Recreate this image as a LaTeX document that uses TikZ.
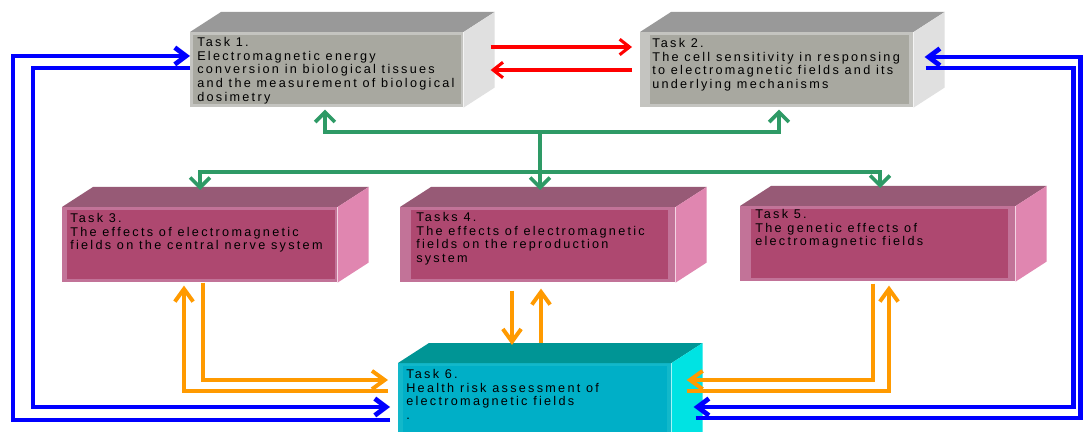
\documentclass[tikz,border=0pt]{standalone}
\usepackage{fontspec}
\setmainfont{Liberation Sans}[LetterSpace=18]
\usetikzlibrary{arrows.meta}

\definecolor{grayrim}{HTML}{C4C4C0}
\definecolor{grayfront}{HTML}{A8A8A0}
\definecolor{graytop}{HTML}{999999}
\definecolor{grayside}{HTML}{E0E0E0}
\definecolor{magrim}{HTML}{C27398}
\definecolor{magfront}{HTML}{AE4870}
\definecolor{magtop}{HTML}{975A76}
\definecolor{magside}{HTML}{E086B0}
\definecolor{cyanrim}{HTML}{12B8CA}
\definecolor{cyanfront}{HTML}{00AFC7}
\definecolor{cyantop}{HTML}{009595}
\definecolor{cyanside}{HTML}{00E3E3}
\definecolor{arrgreen}{HTML}{2E9A66}
\definecolor{arrorange}{HTML}{FF9A00}

\tikzstyle{face}=[anchor=north west,inner sep=0pt,minimum width=6.85cm,minimum height=1.875cm]
\tikzstyle{txt}=[anchor=north west,inner sep=0pt,align=left,font=\fontsize{9}{9.7}\selectfont]
\tikzstyle{rx}=[red,line width=2.2pt,-{Straight Barb[length=7pt,width=11pt]}]
\tikzstyle{bx}=[blue,line width=3.4pt,-{Straight Barb[length=8pt,width=12pt]}]
\tikzstyle{gx}=[arrgreen,line width=2.6pt,-{Straight Barb[length=7pt,width=14pt]}]
\tikzstyle{ox}=[arrorange,line width=2.8pt,-{Straight Barb[length=9pt,width=13pt]}]

% top and right faces of a box
\newcommand{\cubesides}[3]{%
  \fill[#2] (#1.north west) -- ([shift={(31,-20)}]#1.north west)
    -- ([shift={(31,-20)}]#1.north east) -- (#1.north east) -- cycle;
  \fill[#3] (#1.north east) -- ([shift={(31,-20)}]#1.north east)
    -- ([shift={(31,-20)}]#1.south east) -- (#1.south east) -- cycle;
}
% inner panel of the front face
\newcommand{\innerface}[4]{%
  \fill[#2] ([shift={(#3,3)}]#1.north west) rectangle ([shift={(-#4,-4)}]#1.south east);
}

\begin{document}
\begin{tikzpicture}[x=0.025cm,y=-0.025cm]
  \useasboundingbox (0,0) rectangle (1085,432);
  \fill[white] (0,0) rectangle (1085,432);
  \clip (0,0) rectangle (1085,432);

  % boxes
  \node[face,fill=grayrim,minimum width=6.825cm] (t1) at (190,32) {};
  \cubesides{t1}{graytop}{grayside}
  \innerface{t1}{grayfront}{3}{3}
  \node[face,fill=grayrim,minimum width=6.825cm] (t2) at (640,32) {};
  \cubesides{t2}{graytop}{grayside}
  \innerface{t2}{grayfront}{10}{5}

  \node[face,fill=magrim,minimum width=6.875cm] (t3) at (62,207) {};
  \cubesides{t3}{magtop}{magside}
  \innerface{t3}{magfront}{5}{3}
  \node[face,fill=magrim,minimum width=6.875cm] (t4) at (400,207) {};
  \cubesides{t4}{magtop}{magside}
  \innerface{t4}{magfront}{11}{8}
  \node[face,fill=magrim,minimum width=6.875cm] (t5) at (740,206) {};
  \cubesides{t5}{magtop}{magside}
  \innerface{t5}{magfront}{11}{8}

  \node[face,fill=cyanrim,minimum width=6.825cm,minimum height=2.5cm] (t6) at (398,363) {};
  \cubesides{t6}{cyantop}{cyanside}
  \innerface{t6}{cyanfront}{5}{5}

  % texts
  \node[txt] (l1) at ([shift={(7,5)}]t1.north west) {Task 1.\\Electromagnetic energy\\conversion in biological tissues\\and the measurement of biological\\dosimetry};
  \node[txt] (l2) at ([shift={(12,6)}]t2.north west) {Task 2.\\The cell sensitivity in responsing\\to electromagnetic fields and its\\underlying mechanisms};
  \node[txt] (l3) at ([shift={(8,6)}]t3.north west) {Task 3.\\The effects of electromagnetic\\fields on the central nerve system};
  \node[txt] (l4) at ([shift={(16,5)}]t4.north west) {Tasks 4.\\The effects of electromagnetic\\fields on the reproduction\\system};
  \node[txt] (l5) at ([shift={(15,3)}]t5.north west) {Task 5.\\The genetic effects of\\electromagnetic fields};
  \node[txt] (l6) at ([shift={(8,6)}]t6.north west) {Task 6.\\Health risk assessment of\\electromagnetic fields\\.};

  % red
  \draw[rx] ([shift={(27,15)}]t1.north east) -- ([shift={(-8,15)}]t2.north west);
  \draw[rx] ([shift={(-8,38)}]t2.north west) -- ([shift={(27,38)}]t1.north east);

  % blue
  \draw[bx] ([shift={(-8,57)}]t6.north west) -| ([shift={(-177,24)}]t1.north west) -- ([shift={(0,24)}]t1.north west);
  \draw[bx] ([shift={(0,36)}]t1.north west) -| ([shift={(-365,44)}]t6.north west) -- ([shift={(-8,44)}]t6.north west);
  \draw[bx] ([shift={(24,55)}]t6.north east) -| ([shift={(167,25)}]t2.north east) -- ([shift={(11,25)}]t2.north east);
  \draw[bx] ([shift={(12,36)}]t2.north east) -| ([shift={(402,44)}]t6.north east) -- ([shift={(22,44)}]t6.north east);

  % green
  \coordinate (hub) at (540,132);
  \coordinate (split) at (540,172);
  \draw[gx] (hub) -| ([shift={(135,2)}]t1.south west);
  \draw[gx] (hub) -| ([shift={(139,2)}]t2.south west);
  \draw[gx] (hub) -- ([shift={(140,-17)}]t4.north west);
  \draw[gx] (split) -| ([shift={(138,-17)}]t3.north west);
  \draw[gx] (split) -| ([shift={(140,-18)}]t5.north west);

  % orange
  \draw[ox] ([shift={(141,0)}]t3.south west) |- ([shift={(-10,17)}]t6.north west);
  \draw[ox] ([shift={(-10,28)}]t6.north west) -| ([shift={(122,3)}]t3.south west);
  \draw[ox] ([shift={(112,8)}]t4.south west) -- ([shift={(114,-18)}]t6.north west);
  \draw[ox] ([shift={(143,-20)}]t6.north west) -- ([shift={(141,6)}]t4.south west);
  \draw[ox] ([shift={(133,2)}]t5.south west) |- ([shift={(15,17)}]t6.north east);
  \draw[ox] ([shift={(15,28)}]t6.north east) -| ([shift={(149,4)}]t5.south west);
\end{tikzpicture}
\end{document}
